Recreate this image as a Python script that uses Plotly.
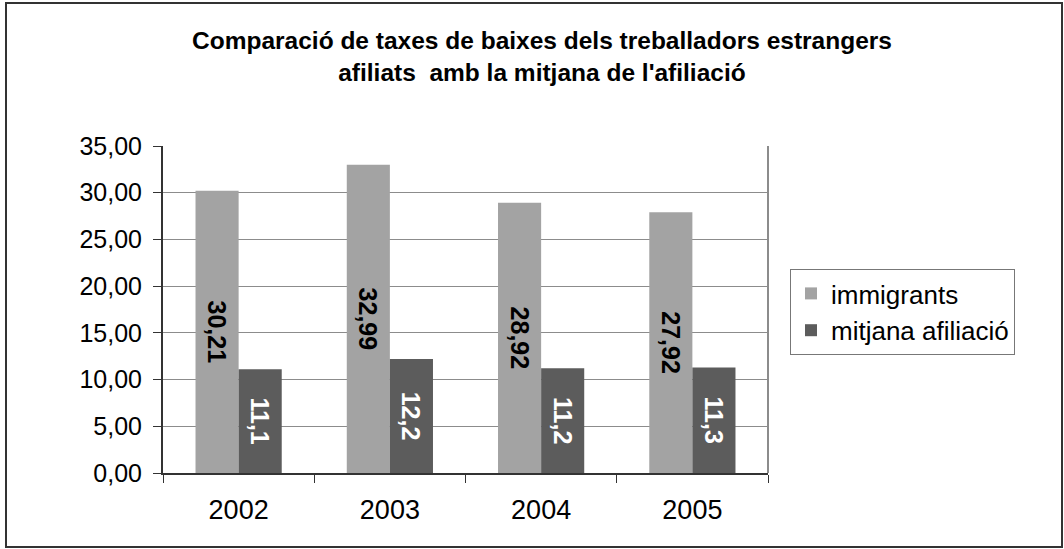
import plotly.graph_objects as go

years = ["2002", "2003", "2004", "2005"]
immigrants = [30.21, 32.99, 28.92, 27.92]
mitjana = [11.1, 12.2, 11.2, 11.3]
imm_labels = ["30,21", "32,99", "28,92", "27,92"]
mit_labels = ["11,1", "12,2", "11,2", "11,3"]
y_ticks = [0, 5, 10, 15, 20, 25, 30, 35]

FONT = "Liberation Sans, Arial, sans-serif"

fig = go.Figure()
fig.add_trace(go.Bar(
    x=years, y=immigrants, name="immigrants",
    marker=dict(color="#a3a3a3", line=dict(width=0)),
    text=imm_labels, textposition="inside", insidetextanchor="middle",
    textangle=90, textfont=dict(family=FONT, size=25, color="black", weight="bold"),
))
fig.add_trace(go.Bar(
    x=years, y=mitjana, name="mitjana afiliació",
    marker=dict(color="#5c5c5c", line=dict(width=0)),
    text=mit_labels, textposition="inside", insidetextanchor="middle",
    textangle=90, textfont=dict(family=FONT, size=25, color="white", weight="bold"),
))

L, R, T, B = 163, 296, 146, 76
W, H = 1064, 549
pw, ph = W - L - R, H - T - B

def px(x):
    return (x - L) / pw

def py(y):
    return (H - B - y) / ph

fig.update_layout(
    width=W, height=H,
    margin=dict(l=L, r=R, t=T, b=B),
    paper_bgcolor="white", plot_bgcolor="white",
    barmode="group", bargap=0.43, bargroupgap=0,
    font=dict(family=FONT, color="black"),
    showlegend=True,
    legend=dict(
        x=px(790), y=py(269), xanchor="left", yanchor="top",
        bordercolor="#777", borderwidth=1,
        font=dict(family=FONT, size=26, color="black"),
        itemsizing="constant", tracegroupgap=0,
    ),
    xaxis=dict(
        showgrid=False, showline=True, linecolor="#333", linewidth=2,
        ticks="outside", tickson="boundaries", ticklen=8, tickcolor="#333",
        ticklabelstandoff=12,
        tickfont=dict(family=FONT, size=27, color="black"),
    ),
    yaxis=dict(
        range=[0, 35], tickvals=y_ticks, tickformat=".2f",
        showgrid=True, gridcolor="#8c8c8c", gridwidth=1,
        showline=True, linecolor="#333", linewidth=2,
        ticks="outside", ticklen=8, tickcolor="#333",
        ticklabelstandoff=6,
        tickfont=dict(family=FONT, size=25, color="black"),
        zeroline=False,
    ),
    separators=",.",
    shapes=[
        dict(type="rect", xref="paper", yref="paper",
             x0=px(6), x1=px(1062), y0=py(547), y1=py(3),
             line=dict(color="#333", width=2), layer="below"),
        dict(type="line", xref="paper", yref="paper",
             x0=1, x1=1, y0=0, y1=1, line=dict(color="#8c8c8c", width=2)),
    ],
    annotations=[
        dict(text="Comparació de taxes de baixes dels treballadors estrangers<br>afiliats  amb la mitjana de l'afiliació",
             xref="paper", yref="paper", x=px(542), y=py(25),
             xanchor="center", yanchor="top", showarrow=False,
             font=dict(family=FONT, size=24.5, color="black", weight="bold"),
             align="center"),
    ],
)

fig.write_html("out.html", config={"displayModeBar": False},
               post_script="document.body.style.margin='0';")
